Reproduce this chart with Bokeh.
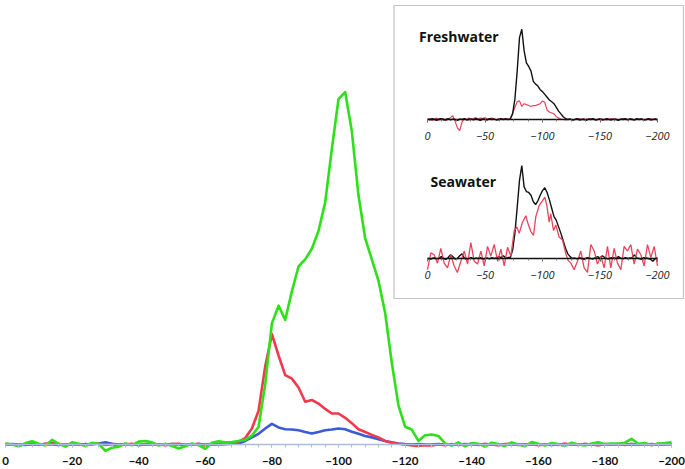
from bokeh.plotting import figure
from bokeh.models import (Range1d, LinearAxis, SingleIntervalTicker, BoxAnnotation,
                          Label)
from bokeh.embed import file_html
from bokeh.resources import INLINE

# ---------------- data ----------------
x_main = list(range(0, -201, -2))

green = [0.3, 0.0, -0.5, 0.4, 0.9, 0.2, -0.3, 1.3, 0.2, -0.6,
         0.6, 0.2, -0.4, 0.5, 0.2, -1.8, -0.9, -0.6, 0.3, -0.2,
         0.8, 1.0, 0.6, -0.3, 0.2, -0.4, -1.1, -0.5, 0.3, -0.2,
         -1.2, 0.5, 0.9, 0.6, 0.7, 1.0,
         1.3, 2.5, 5, 17, 34, 39, 35, 43, 50, 52, 55, 60, 68, 83, 97, 99,
         88, 70, 58, 52, 46, 37, 23, 11, 5, 4.2, 1.0, 2.6, 2.8, 2.4, 0.3,
         -0.3, 0.6, -0.5, 0.4, 0.2, -0.6, 0.5, 0.1, -0.4, 0.6, 0.0, -0.5,
         0.7, 0.2, -0.3, 0.4, 0.1, -0.4, 0.5, 0.0, -0.3, 0.3, 0.6, 0.1,
         0.3, 0.2, 0.5, 1.6, 0.2, 0.4, -0.2, 0.3, 0.4, 0.6]

red = [0.2, 0.0, -0.3, 0.1, 0.3, -0.1, 0.2, 0.4, 0.1, -0.2, 0.3, 0.0,
       -0.2, 0.2, 0.3, -0.1, 0.1, -0.3, 0.0, 0.2, -0.2, 0.1, 0.3, 0.0,
       -0.2, 0.1, 0.2, -0.1, 0.0, 0.2, -0.3, 0.1, 0.2, 0.3, 0.4,
       0.8, 1.8, 4.5, 9.5, 22, 31, 25, 19.5, 18.5, 16, 12, 12.5, 11.5, 10,
       8.7, 8.7, 7.5, 6, 4.3, 3.5, 2.7, 2, 1, 0.5, 0.2, 0.0,
       -0.3, -0.4, -0.2, -0.3, 0.0, -0.2, 0.1, -0.1, 0.0, 0.2, -0.1, 0.1,
       0.0, -0.2, 0.1, 0.2, -0.1, 0.0, 0.1, -0.2, 0.0, 0.1, -0.1, 0.2,
       0.0, -0.1, 0.1, 0.0, -0.2, 0.1, 0.0, 0.2, -0.1, 0.1, 0.0, 0.2,
       -0.1, 0.1, 0.0, 0.1]

blue = [0.0, 0.1, 0.0, -0.1, 0.1, 0.0, 0.1, 0.0, -0.1, 0.0, 0.1, 0.0,
        0.1, 0.0, 0.3, 0.6, 0.2, 0.0, 0.1, 0.0, -0.1, 0.0, 0.1, 0.0,
        0.0, 0.1, 0.0, -0.1, 0.0, 0.1, 0.0, 0.1, 0.0, 0.1, 0.2,
        0.3, 1.0, 2.0, 3.0, 4.5, 5.8, 4.8, 4.3, 4.2, 4.0, 3.5, 3.1, 3.5,
        4.0, 4.2, 4.5, 4.3, 3.6, 3.0, 2.4, 2.0, 1.5, 1.0, 0.6, 0.3, 0.1,
        0.0, 0.1, 0.0, 0.0, 0.1, 0.0, -0.1, 0.0, 0.1, 0.0, 0.0, 0.1, 0.0,
        -0.1, 0.0, 0.1, 0.0, 0.0, 0.1, 0.0, 0.0, -0.1, 0.0, 0.1, 0.0, 0.0,
        0.1, 0.0, -0.1, 0.0, 0.1, 0.0, 0.0, 0.1, 0.0, 0.0, 0.1, 0.0, 0.1,
        0.1]

x_inset = list(range(0, -201, -2))

fw_black = [0.5, -0.5, 1.0, 0.0, -1.0, 0.5, 1.0, -0.5, 0.0, 1.0, -0.5, 0.5,
            0.0, -1.0, 0.5, 0.0, 1.0, -0.5, 0.0, 0.5, -0.5, 1.0, 0.0, -1.0,
            0.5, 0.0, -0.5, 1.0, 0.0, 0.5, -0.5, 0.0, 1.0, 0.0, 0.5, 0.0,
            0.5, 6, 22, 52, 88, 97, 74, 61, 57, 52, 41, 38, 36, 32, 30, 27,
            24, 21, 19, 17, 13, 9, 6, 3, 1, 0,
            0.5, -0.5, 0.0, 1.0, -0.5, 0.0, 0.5, -1.0, 0.5, 0.0, 1.0, -0.5,
            0.0, 0.5, -0.5, 0.0, 1.0, 0.0, -0.5, 0.5, 0.0, -1.0, 0.5, 0.0,
            1.0, -0.5, 0.5, 0.0, -0.5, 1.0, 0.0, 0.5, -0.5, 0.0, 1.0, -0.5,
            0.0, 0.5, 0.0]

fw_red = [0.0, 1.0, -1.0, 0.5, 1.5, -0.5, 0.0, 1.0, -1.5, 0.5, 2.0, 4.0,
          -2.0, -9.0, -12.0, -3.0, 1.0, 0.0, 1.5, 0.5, 1.0, 2.0, 0.5, 1.5,
          1.0, 2.0, 0.5, 1.0, 1.5, 0.5, -0.5, 1.0, 0.0, 0.5, 1.0, 0.5,
          1, 7, 13, 19, 20, 14, 17, 16, 15, 14, 15, 15, 16, 17, 20, 18.5,
          10, 8, 7, 6, 3, 1.5, 0.5, 0, -0.5, 0,
          0.5, -0.5, 0.0, 0.5, 1.0, 0.0, -0.5, 0.5, 0.0, 1.0, 0.5, -0.5,
          0.0, 1.0, 0.5, 0.0, -0.5, 0.5, 1.0, 0.0, 0.5, -0.5, 0.0, 1.0,
          0.5, 0.0, 1.0, 0.5, -0.5, 0.0, 0.5, 1.0, 0.0, -0.5, 0.5, 1.0,
          0.0, 0.5, -1.0]

sw_black = [0.5, -1.0, 0.0, 1.0, -0.5, 0.5, 2.0, 0.0, -1.0, 1.0, 4.0, 2.0,
            -0.5, 0.0, 3.0, 5.0, 0.5, -1.0, 0.0, 1.0, -0.5, 0.5, 0.0, 1.0,
            -1.0, 0.0, 0.5, -0.5, 1.0, 0.0, 0.5, 2.0, 1.0, 3.0, 0.5, 1.0,
            1, 9, 27, 55, 84, 100, 77, 72, 71, 68, 61, 58, 62, 68, 73, 76,
            71, 63, 54, 45, 41, 34, 27, 19, 11, 5, 2, 0,
            0.5, -0.5, 1.0, 0.0, -1.0, 0.5, 1.0, 0.0, -0.5, 1.0, 2.0, 0.5,
            3.0, 1.0, 0.0, -0.5, 1.0, 0.5, 0.0, 2.0, 0.5, -0.5, 1.0, 0.0,
            0.5, 1.0, 4.0, 0.5, 0.0, -1.0, 1.0, 0.5, 0.0, -1.0, -3.0, 0.0,
            0.5]

sw_red_x = [0, -2.9, -5.8, -8.7, -11.6, -14.5, -17.4, -20.3, -23.2, -26,
            -29, -32, -34.8, -37.7, -40.6, -43.5, -46.4, -49.3, -52.2, -55,
            -58, -61, -63.8, -66.7, -69.6, -72.5, -75.4, -77.7, -79.7, -82.6,
            -85.5, -87.5, -89.9, -92.2, -94.2, -97.1, -100, -102, -103.8,
            -105.8, -107.2, -109.6, -111.6, -114.5, -117.4, -120.3, -122.3,
            -124.6, -127.5, -130.4, -133.3, -136.2, -139.1, -142, -145,
            -147.8, -150.7, -153.6, -156.5, -159.4, -162.3, -165.2, -168.1,
            -171, -173.9, -176.8, -179.7, -182.6, -185.5, -188.4, -191.3,
            -194.2, -197.1, -200]
sw_red = [-12, 6, 4, -5, 11, -5, -10, 4, -8, -15,
          -3, 8, -6, 17, -3, -6, 8, -8, 13, 2.5,
          15, -3, 10, -8, 12, 2.5, 30, 34, 27, 39,
          46, 37, 29, 25, 45, 57, 62, 66, 57,
          39, 48, 30, 36, 23, 20, 5, -2,
          -5, -12, -3, 8, -10, -15, 15, 8,
          -6, 2.5, -10, 13, -10, 11, -5, -12,
          13, 8, 15, -6, 10, 4, -8, 15,
          1, 13, -8]

main_ticks_step = 20
inset_ticks_step = 50
titles = ["Freshwater", "Seawater"]

# ---------------- layout (canvas pixels) ----------------
W, H = 685, 469


def span(px_a, val_a, px_b, val_b, size):
    k = (px_b - px_a) / (val_b - val_a)
    return val_a + (0 - px_a) / k, val_a + (size - px_a) / k


def to_val(px, px_a, val_a, px_b, val_b):
    k = (px_b - px_a) / (val_b - val_a)
    return val_a + (px - px_a) / k


MX = (5.0, 0, 671.0, -200)          # main x: px of 0 and -200
MY = (444.0, 0, 88.0, 100)          # main y: px (from top) of 0 and 100
IX = (427.0, 0, 657.0, -200)        # inset x
FY = (119.0, 0, 26.0, 100)          # freshwater y
SY = (258.0, 0, 165.0, 100)         # seawater y

mx0, mx1 = span(*MX, W)
my_top, my_bot = span(*MY, H)
ix0, ix1 = span(*IX, W)
fy_top, fy_bot = span(*FY, H)
sy_top, sy_bot = span(*SY, H)

p = figure(width=W, height=H, output_backend="svg", toolbar_location=None,
           x_axis_location=None, y_axis_location=None,
           x_range=Range1d(mx0, mx1), y_range=Range1d(my_bot, my_top),
           min_border=0, outline_line_color=None)
p.grid.grid_line_color = None
p.background_fill_color = "white"
p.border_fill_color = "white"
p.extra_x_ranges = {"ix": Range1d(ix0, ix1)}
p.extra_y_ranges = {"fy": Range1d(fy_bot, fy_top), "sy": Range1d(sy_bot, sy_top)}

# main axis at y = 0
ax = LinearAxis(fixed_location=0, bounds=(-200, 0),
                ticker=SingleIntervalTicker(interval=main_ticks_step, num_minor_ticks=5))
ax.axis_line_color = "#a9bde0"
ax.axis_line_width = 1.5
ax.major_tick_line_color = "#a9bde0"
ax.minor_tick_line_color = "#a9bde0"
ax.major_tick_in = 0
ax.major_tick_out = 3
ax.minor_tick_in = 0
ax.minor_tick_out = 3
ax.major_label_text_font = "Lato"
ax.major_label_text_font_style = "bold"
ax.major_label_text_font_size = "11.5px"
ax.major_label_text_color = "#111111"
ax.major_label_standoff = 9
p.add_layout(ax, "below")

# main lines
p.line(x_main, blue, color="#3a5ad8", line_width=2.6, line_join="round")
p.line(x_main, red, color="#f03a4c", line_width=2.6, line_join="round")
p.line(x_main, green, color="#2ee01a", line_width=2.6, line_join="round")

# inset box
box = BoxAnnotation(x_range_name="ix", y_range_name="fy",
                    left=to_val(393.5, *IX), right=to_val(683, *IX),
                    top=to_val(5, *FY), bottom=to_val(298, *FY),
                    fill_alpha=0, line_color="#3c3c3c", line_width=1.2)
p.add_layout(box)

for yname in ["fy", "sy"]:
    ia = LinearAxis(x_range_name="ix", y_range_name=yname, fixed_location=0,
                    bounds=(-200, 0),
                    ticker=SingleIntervalTicker(interval=inset_ticks_step, num_minor_ticks=4))
    ia.axis_line_color = "#111111"
    ia.axis_line_width = 1.3
    ia.major_tick_line_color = "#555555"
    ia.minor_tick_line_color = "#777777"
    ia.major_tick_in = 0
    ia.major_tick_out = 3
    ia.minor_tick_in = 0
    ia.minor_tick_out = 2
    ia.major_label_text_font = "Open Sans"
    ia.major_label_text_font_style = "italic"
    ia.major_label_text_font_size = "11px"
    ia.major_label_text_color = "#222222"
    ia.major_label_standoff = 9
    p.add_layout(ia, "below")

p.line(x_inset, fw_red, color="#e8455c", line_width=1.2, x_range_name="ix", y_range_name="fy")
p.line(x_inset, fw_black, color="#111111", line_width=1.4, x_range_name="ix", y_range_name="fy")
p.line(x_inset, sw_black, color="#111111", line_width=1.4, x_range_name="ix", y_range_name="sy")
p.line(sw_red_x, sw_red, color="#e8455c", line_width=1.3, x_range_name="ix", y_range_name="sy")

p.add_layout(Label(x=to_val(418.5, *IX), y=to_val(36.0, *FY), x_range_name="ix", y_range_name="fy",
                   text=titles[0], text_font="Open Sans", text_font_style="bold",
                   text_font_size="14px", text_baseline="middle", text_align="left",
                   text_color="#111111"))
p.add_layout(Label(x=to_val(430.0, *IX), y=to_val(181.0, *SY), x_range_name="ix", y_range_name="sy",
                   text=titles[1], text_font="Open Sans", text_font_style="bold",
                   text_font_size="14px", text_baseline="middle", text_align="left",
                   text_color="#111111"))

open("out.html", "w").write(file_html(p, INLINE))
